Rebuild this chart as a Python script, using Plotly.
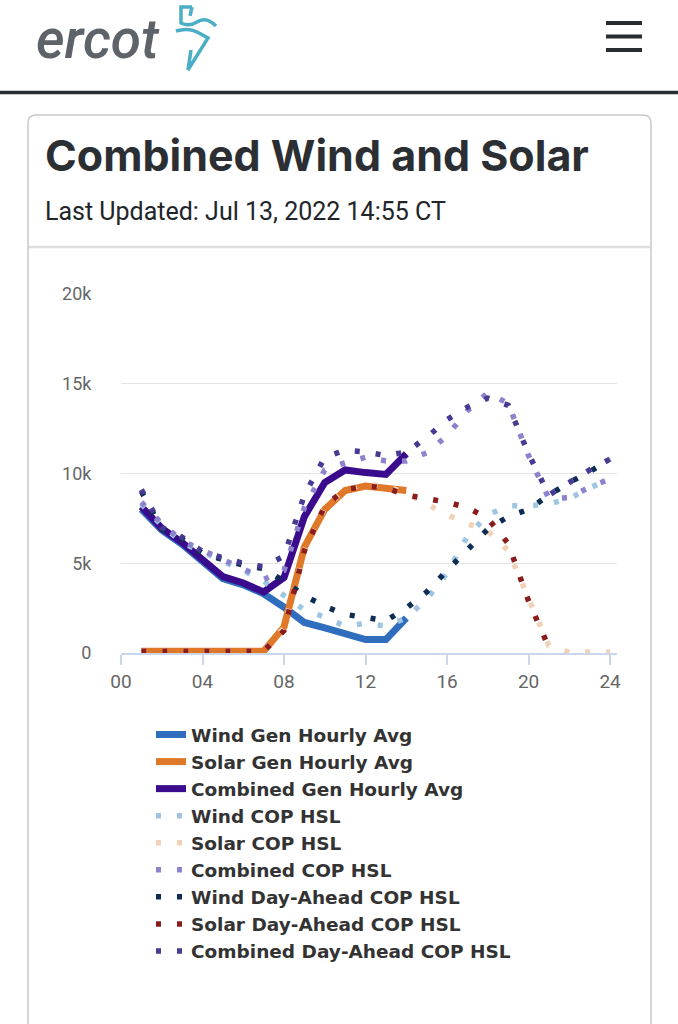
import plotly.graph_objects as go

W, H = 678, 1024

# ---------------- data ----------------
hours_gen = list(range(1, 15))
hours_fc = list(range(1, 25))
hours_solar_da = list(range(1, 22))

wind_gen = [8000, 6850, 6050, 5100, 4150, 3800, 3300, 2550, 1700, 1400, 1050, 750, 750, 1950]
solar_gen = [100, 100, 100, 100, 100, 100, 100, 1450, 5900, 8000, 9050, 9300, 9200, 9050]
combined_gen = [8150, 6950, 6150, 5200, 4250, 3900, 3400, 4200, 7600, 9500, 10200, 10050, 9950, 11100]

wind_cop = [8300, 7100, 6150, 5600, 5100, 4600, 4000, 3200, 2400, 2000, 1500, 1650,
            1500, 1950, 3000, 4450, 6500, 7700, 8200, 8200, 8300, 8600, 9200, 9700]
solar_cop = [100, 100, 100, 100, 100, 100, 100, 1400, 5700, 8100, 9100, 9400,
             9300, 8900, 8300, 7700, 7200, 6800, 5700, 3100, 400, 50, 50, 50]
combined_cop = [8400, 7200, 6250, 5700, 5200, 4700, 4100, 4600, 8100, 10200, 10600, 10900,
                10700, 10700, 11150, 12100, 13500, 14500, 13900, 11000, 8600, 8650, 9250, 9700]

wind_da = [9000, 6900, 6350, 5550, 5200, 4900, 4700, 4000, 3200, 2600, 2150, 1950,
           1800, 2500, 3400, 4600, 5700, 6900, 7600, 8000, 8800, 9500, 10100, 10800]
solar_da = [100, 100, 100, 100, 100, 100, 100, 1250, 5700, 8200, 9100, 9300,
            9200, 8800, 8600, 8400, 8100, 7500, 6100, 2900, 300]
combined_da = [9100, 7000, 6450, 5650, 5300, 5000, 4800, 5400, 8800, 10900, 11300, 11200,
               11000, 11200, 12000, 13000, 13700, 14200, 13800, 11100, 8800, 9500, 10200, 10800]

x_tick_vals = [0, 4, 8, 12, 16, 20, 24]
x_tick_text = ["00", "04", "08", "12", "16", "20", "24"]
y_tick_vals = [0, 5000, 10000, 15000, 20000]
y_tick_text = ["0", "5k", "10k", "15k", "20k"]

# ---------------- helpers ----------------
def px(x):
    return x / W


def py(y):
    return 1 - y / H


def path(points_cmds):
    out = []
    for item in points_cmds:
        if isinstance(item, str):
            out.append(item)
        else:
            out.append(f"{px(item[0]):.5f},{py(item[1]):.5f}")
    return " ".join(out)


DOT = "5px,16px"

fig = go.Figure()

solid = [
    ("Wind Gen Hourly Avg", wind_gen, "#2f6dbf"),
    ("Solar Gen Hourly Avg", solar_gen, "#e0782a"),
    ("Combined Gen Hourly Avg", combined_gen, "#3a0b8c"),
]
for name, ys, col in solid:
    fig.add_trace(go.Scatter(x=hours_gen, y=ys, mode="lines", name=name,
                             line=dict(color=col, width=7)))

dotted = [
    ("Wind COP HSL", hours_fc, wind_cop, "#9ec6e2"),
    ("Solar COP HSL", hours_fc, solar_cop, "#f2d2b6"),
    ("Combined COP HSL", hours_fc, combined_cop, "#8d82cd"),
    ("Wind Day-Ahead COP HSL", hours_fc, wind_da, "#0e2d55"),
    ("Solar Day-Ahead COP HSL", hours_solar_da, solar_da, "#8b1c1c"),
    ("Combined Day-Ahead COP HSL", hours_fc, combined_da, "#463a92"),
]
for name, xs, ys, col in dotted:
    fig.add_trace(go.Scatter(x=xs, y=ys, mode="lines", name=name,
                             line=dict(color=col, width=5.5, dash=DOT)))

shapes = []
# header rule
shapes.append(dict(type="line", xref="paper", yref="paper", x0=0, x1=1,
                   y0=py(92.5), y1=py(92.5), line=dict(color="#2b2e31", width=3.5)))
# hamburger
for yy in (23, 36.5, 50):
    shapes.append(dict(type="line", xref="paper", yref="paper", x0=px(606), x1=px(642),
                       y0=py(yy), y1=py(yy), line=dict(color="#2a2d30", width=4)))
# logo icon
icon1 = path(["M", (192, 7), "L", (181, 7), "L", (181, 23), "Q", (189, 27), (197, 22),
              "Q", (206, 16), (216, 26)])
icon2 = path(["M", (192, 7), "L", (190, 16)])
icon3 = path(["M", (176, 31), "Q", (189, 27), (199, 33), "L", (208, 38), "L", (188, 70),
              "L", (191, 50)])
for pth in (icon1, icon2, icon3):
    shapes.append(dict(type="path", xref="paper", yref="paper", path=pth,
                       line=dict(color="#4aaec6", width=3.5)))
# card border
card = path(["M", (28, 1040), "L", (28, 123), "Q", (28, 115), (36, 115), "L", (643, 115),
             "Q", (651, 115), (651, 123), "L", (651, 1040)])
shapes.append(dict(type="path", xref="paper", yref="paper", path=card,
                   line=dict(color="#c9c9c9", width=1.5), layer="below"))
# card header separator
shapes.append(dict(type="line", xref="paper", yref="paper", x0=px(29), x1=px(650),
                   y0=py(247), y1=py(247), line=dict(color="#dedede", width=2.5)))

annotations = [
    dict(text="ercot", x=px(34), y=py(73), xref="paper", yref="paper", xanchor="left",
         yanchor="bottom", showarrow=False,
         font=dict(family="Roboto", size=55, color="#5e6269", style="italic", weight=500)),
    dict(text="Combined Wind and Solar", x=px(43), y=py(155), xref="paper", yref="paper",
         xanchor="left", yanchor="middle", showarrow=False,
         font=dict(family="Inter", size=43, color="#2b2f33", weight=700)),
    dict(text="Last Updated: Jul 13, 2022 14:55 CT", x=px(43), y=py(211), xref="paper",
         yref="paper", xanchor="left", yanchor="middle", showarrow=False,
         font=dict(family="Roboto", size=25, color="#212529")),
]

fig.update_layout(
    width=W, height=H,
    margin=dict(l=0, r=0, t=0, b=0, pad=0),
    paper_bgcolor="white", plot_bgcolor="rgba(0,0,0,0)",
    showlegend=True,
    legend=dict(x=px(151), y=py(716), xanchor="left", yanchor="top",
                font=dict(family="DejaVu Sans", size=18.5, color="#333333",
                          weight="bold"),
                bgcolor="rgba(0,0,0,0)", itemwidth=30, tracegroupgap=0),
    xaxis=dict(domain=[px(121), px(617)], range=[0, 24.34], tickvals=x_tick_vals,
               ticktext=x_tick_text, showline=True, linecolor="#ccd6eb", linewidth=1.5,
               ticks="outside", ticklen=10, tickcolor="#ccd6eb", tickwidth=1.5,
               showgrid=False, zeroline=False, automargin=False,
               tickfont=dict(family="Roboto", size=19, color="#666666")),
    yaxis=dict(domain=[py(653), py(294)], range=[0, 20000], tickvals=y_tick_vals,
               ticktext=y_tick_text, showgrid=True, gridcolor="#e4e4e4", gridwidth=1.3,
               zeroline=False, showline=False, ticks="outside", ticklen=25,
               tickcolor="rgba(0,0,0,0)", automargin=False,
               tickfont=dict(family="Roboto", size=18, color="#666666")),
    shapes=shapes,
    annotations=annotations,
    hovermode=False,
)

fig.write_html("out.html")
